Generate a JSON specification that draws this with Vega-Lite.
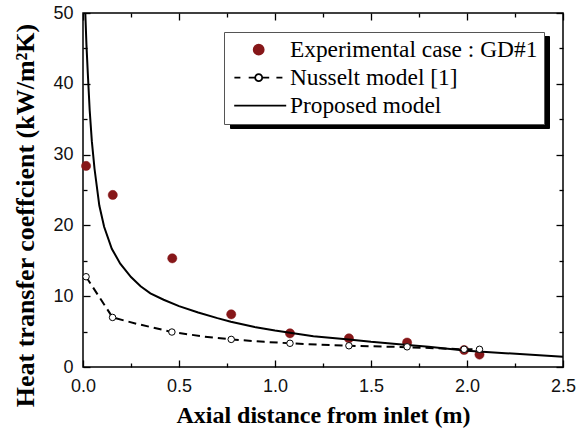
{
  "$schema": "https://vega.github.io/schema/vega-lite/v6.json",
  "width": 480,
  "height": 354,
  "autosize": {"type": "none"},
  "padding": {"left": 83, "top": 13, "right": 23, "bottom": 67},
  "background": "white",
  "config": {
    "view": {"stroke": "black", "strokeWidth": 1.5},
    "axis": {
      "grid": false,
      "domain": false,
      "labelFont": "Liberation Sans",
      "labelFontSize": 18,
      "labelColor": "#111111",
      "tickColor": "black",
      "tickWidth": 1.3,
      "labelFlush": false,
      "titleFont": "Liberation Serif",
      "titleFontWeight": "bold",
      "titleColor": "black"
    }
  },
  "datasets": {
    "experimental": [
      {"series": "Experimental case : GD#1", "x": 0.016, "h": 28.4},
      {"series": "Experimental case : GD#1", "x": 0.155, "h": 24.3},
      {"series": "Experimental case : GD#1", "x": 0.465, "h": 15.35},
      {"series": "Experimental case : GD#1", "x": 0.772, "h": 7.44},
      {"series": "Experimental case : GD#1", "x": 1.078, "h": 4.76},
      {"series": "Experimental case : GD#1", "x": 1.385, "h": 4.05},
      {"series": "Experimental case : GD#1", "x": 1.688, "h": 3.45},
      {"series": "Experimental case : GD#1", "x": 1.985, "h": 2.4},
      {"series": "Experimental case : GD#1", "x": 2.065, "h": 1.75}
    ],
    "nusseltCurve": [
      {"series": "Nusselt model [1]", "x": 0.016, "h": 12.75},
      {"series": "Nusselt model [1]", "x": 0.154, "h": 7.0},
      {"series": "Nusselt model [1]", "x": 0.28, "h": 6.1},
      {"series": "Nusselt model [1]", "x": 0.463, "h": 4.94},
      {"series": "Nusselt model [1]", "x": 0.63, "h": 4.3},
      {"series": "Nusselt model [1]", "x": 0.772, "h": 3.9},
      {"series": "Nusselt model [1]", "x": 0.945, "h": 3.55},
      {"series": "Nusselt model [1]", "x": 1.078, "h": 3.35},
      {"series": "Nusselt model [1]", "x": 1.23, "h": 3.15},
      {"series": "Nusselt model [1]", "x": 1.385, "h": 3.0},
      {"series": "Nusselt model [1]", "x": 1.688, "h": 2.8},
      {"series": "Nusselt model [1]", "x": 1.985, "h": 2.5},
      {"series": "Nusselt model [1]", "x": 2.065, "h": 2.5}
    ],
    "nusseltPoints": [
      {"x": 0.016, "h": 12.75},
      {"x": 0.154, "h": 7.0},
      {"x": 0.463, "h": 4.94},
      {"x": 0.772, "h": 3.9},
      {"x": 1.078, "h": 3.35},
      {"x": 1.385, "h": 3.0},
      {"x": 1.688, "h": 2.85},
      {"x": 1.985, "h": 2.5},
      {"x": 2.065, "h": 2.5}
    ],
    "proposed": [
      {"x": 0.012, "h": 50},
      {"x": 0.018, "h": 45.5},
      {"x": 0.025, "h": 41.5},
      {"x": 0.035, "h": 36.2},
      {"x": 0.046, "h": 31.9},
      {"x": 0.06, "h": 28.0},
      {"x": 0.085, "h": 22.8},
      {"x": 0.11, "h": 19.8},
      {"x": 0.15, "h": 16.7},
      {"x": 0.194, "h": 14.6},
      {"x": 0.25, "h": 12.7},
      {"x": 0.3, "h": 11.4},
      {"x": 0.351, "h": 10.4},
      {"x": 0.42, "h": 9.5},
      {"x": 0.5, "h": 8.6},
      {"x": 0.6, "h": 7.7},
      {"x": 0.7, "h": 6.9},
      {"x": 0.77, "h": 6.4},
      {"x": 0.9, "h": 5.6},
      {"x": 1.0, "h": 5.15},
      {"x": 1.078, "h": 4.85},
      {"x": 1.2, "h": 4.35},
      {"x": 1.385, "h": 3.9},
      {"x": 1.5, "h": 3.55},
      {"x": 1.69, "h": 3.1},
      {"x": 1.8, "h": 2.85},
      {"x": 2.0, "h": 2.3},
      {"x": 2.2, "h": 1.95},
      {"x": 2.5, "h": 1.45}
    ]
  },
  "resolve": {"axis": {"x": "independent", "y": "independent"}},
  "layer": [
    {
      "data": {"name": "experimental"},
      "mark": {"type": "point", "filled": true, "size": 85, "opacity": 1, "strokeWidth": 0.5},
      "encoding": {
        "x": {"field": "x", "type": "quantitative", "scale": {"domain": [0, 2.5], "nice": false, "zero": false},
          "axis": {"orient": "bottom", "values": [0, 0.5, 1, 1.5, 2, 2.5], "format": ".1f", "tickSize": -7, "labelPadding": 17,
            "title": "Axial distance from inlet (m)", "titleFontSize": 24, "titleX": 240, "titleY": 55, "titleAlign": "center", "titleBaseline": "alphabetic"}},
        "y": {"field": "h", "type": "quantitative", "scale": {"domain": [0, 50], "nice": false, "zero": false},
          "axis": {"orient": "left", "values": [0, 10, 20, 30, 40, 50], "format": "d", "tickSize": -7, "labelPadding": 17,
            "title": "Heat transfer coeffcient (kW/m²K)", "titleFontSize": 26, "titleAngle": 270, "titleX": -50, "titleY": 202, "titleAlign": "center", "titleBaseline": "alphabetic"}},
        "fill": {"field": "series", "type": "nominal",
          "scale": {"domain": ["Experimental case : GD#1", "Nusselt model [1]", "Proposed model"], "range": ["#861719", "white", "transparent"]},
          "legend": {"orient": "top-right", "offset": 19, "title": null, "zindex": 1, "padding": 6,
            "fillColor": "white", "strokeColor": "#555555", "labelFont": "Liberation Serif", "labelFontSize": 23.4, "labelColor": "black",
            "labelOffset": 19.5, "rowPadding": 3, "symbolSize": 100, "symbolStrokeWidth": 1.8, "symbolOffset": 17, "labelLimit": 400}},
        "stroke": {"field": "series", "type": "nominal",
          "scale": {"domain": ["Experimental case : GD#1", "Nusselt model [1]", "Proposed model"], "range": ["#861719", "black", "black"]},
          "legend": {"orient": "top-right", "offset": 19, "title": null}},
        "shape": {"field": "series", "type": "nominal",
          "scale": {"domain": ["Experimental case : GD#1", "Nusselt model [1]", "Proposed model"],
            "range": [
              "circle",
              "M-4.86,0H-3.66M-2,0H-0.7M0.7,0H2.1M3.54,0H4.74M0.7,0A0.7,0.7 0 1,1 -0.7,0A0.7,0.7 0 1,1 0.7,0Z",
              "M-4.9,0H5.5"
            ]},
          "legend": {"orient": "top-right", "offset": 19, "title": null}}
      }
    },
    {
      "data": {"name": "nusseltCurve"},
      "mark": {"type": "line", "color": "black", "strokeWidth": 2, "clip": true},
      "encoding": {
        "x": {"field": "x", "type": "quantitative", "scale": {"domain": [0, 2.5], "nice": false, "zero": false},
          "axis": {"orient": "top", "values": [0, 0.5, 1, 1.5, 2, 2.5], "labels": false, "tickSize": -7, "title": null}},
        "y": {"field": "h", "type": "quantitative", "scale": {"domain": [0, 50], "nice": false, "zero": false},
          "axis": {"orient": "right", "values": [0, 10, 20, 30, 40, 50], "labels": false, "tickSize": -7, "title": null}},
        "strokeDash": {"field": "series", "type": "nominal",
          "scale": {"domain": ["Experimental case : GD#1", "Nusselt model [1]", "Proposed model"], "range": [[8, 5], [8, 5], [8, 5]]},
          "legend": {"orient": "none", "legendX": 147, "legendY": 23, "title": null, "zindex": 0, "padding": 6,
            "fillColor": "black", "strokeColor": "black", "labelFont": "Liberation Serif", "labelFontSize": 23.4,
            "labelExpr": "''", "labelOffset": 0, "rowPadding": 3, "symbolSize": 100, "symbolStrokeWidth": 1.8,
            "symbolType": "M-2.34,0H58.9", "symbolOffset": 0, "symbolOpacity": 0}}
      }
    },
    {
      "data": {"name": "proposed"},
      "mark": {"type": "line", "color": "black", "strokeWidth": 2, "clip": true},
      "encoding": {
        "x": {"field": "x", "type": "quantitative", "scale": {"domain": [0, 2.5], "nice": false, "zero": false},
          "axis": {"orient": "bottom", "values": [0.25, 0.75, 1.25, 1.75, 2.25], "labels": false, "tickSize": -4, "title": null}},
        "y": {"field": "h", "type": "quantitative", "scale": {"domain": [0, 50], "nice": false, "zero": false},
          "axis": {"orient": "left", "values": [5, 15, 25, 35, 45], "labels": false, "tickSize": -4, "title": null}}
      }
    },
    {
      "data": {"name": "nusseltPoints"},
      "mark": {"type": "point", "filled": true, "fill": "white", "stroke": "black", "strokeWidth": 1, "size": 42, "opacity": 1},
      "encoding": {
        "x": {"field": "x", "type": "quantitative", "scale": {"domain": [0, 2.5], "nice": false, "zero": false},
          "axis": {"orient": "top", "values": [0.25, 0.75, 1.25, 1.75, 2.25], "labels": false, "tickSize": -4, "title": null}},
        "y": {"field": "h", "type": "quantitative", "scale": {"domain": [0, 50], "nice": false, "zero": false},
          "axis": {"orient": "right", "values": [5, 15, 25, 35, 45], "labels": false, "tickSize": -4, "title": null}}
      }
    }
  ]
}
